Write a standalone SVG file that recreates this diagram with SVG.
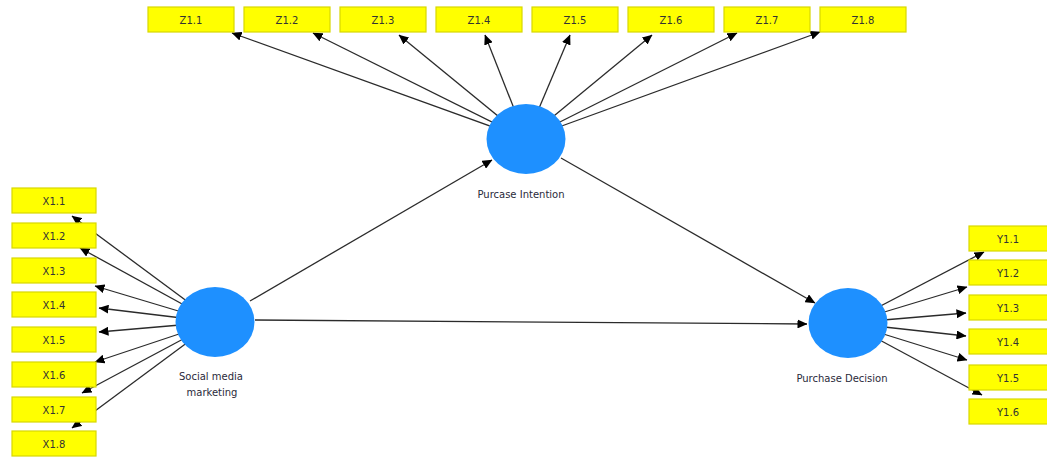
<svg xmlns="http://www.w3.org/2000/svg" width="1047" height="457" viewBox="0 0 1047 457">
<style>
.bg{fill:#ffffff}
.box rect{fill:#ffff00;stroke:#d8d800;stroke-width:1.2}
.box text{font-family:"DejaVu Sans","Liberation Sans",sans-serif;font-size:10px;fill:#333333;text-anchor:middle}
.lv ellipse{fill:#1e90ff}
.lv text{font-family:"DejaVu Sans","Liberation Sans",sans-serif;font-size:10px;fill:#2a2a3a;text-anchor:middle}
#connectors line{stroke:#2b2b2b;stroke-width:1.3;marker-end:url(#ah)}
</style>
<defs>
<marker id="ah" markerUnits="userSpaceOnUse" markerWidth="10" markerHeight="9" refX="9.5" refY="4.5" orient="auto">
<path d="M0,0 L10,4.5 L0,9 z" fill="#000000"/>
</marker>
</defs>
<rect class="bg" x="0" y="0" width="1047" height="457"/>
<g id="connectors">
<line x1="526" y1="139" x2="232" y2="33"/>
<line x1="526" y1="139" x2="313" y2="33"/>
<line x1="526" y1="139" x2="399" y2="35"/>
<line x1="526" y1="139" x2="485" y2="35"/>
<line x1="526" y1="139" x2="570" y2="35"/>
<line x1="526" y1="139" x2="652" y2="35"/>
<line x1="526" y1="139" x2="737" y2="33"/>
<line x1="526" y1="139" x2="820" y2="32"/>
<line x1="215" y1="322" x2="72" y2="216"/>
<line x1="215" y1="322" x2="80" y2="248"/>
<line x1="215" y1="322" x2="95" y2="286"/>
<line x1="215" y1="322" x2="99" y2="308"/>
<line x1="215" y1="322" x2="99" y2="332"/>
<line x1="215" y1="322" x2="95" y2="362"/>
<line x1="215" y1="322" x2="82" y2="393"/>
<line x1="215" y1="322" x2="72" y2="428"/>
<line x1="848" y1="323" x2="984" y2="252"/>
<line x1="848" y1="323" x2="967" y2="287"/>
<line x1="848" y1="323" x2="966" y2="313"/>
<line x1="848" y1="323" x2="966" y2="336"/>
<line x1="848" y1="323" x2="967" y2="360"/>
<line x1="848" y1="323" x2="982" y2="395"/>
<line x1="250" y1="301" x2="492" y2="160"/>
<line x1="255" y1="320" x2="807" y2="324"/>
<line x1="561" y1="158" x2="815" y2="303"/>
</g>
<g id="Z1.1" class="box"><rect x="148" y="7" width="86" height="25"/><text x="191" y="24">Z1.1</text></g>
<g id="Z1.2" class="box"><rect x="244" y="7" width="86" height="25"/><text x="287" y="24">Z1.2</text></g>
<g id="Z1.3" class="box"><rect x="340" y="7" width="86" height="25"/><text x="383" y="24">Z1.3</text></g>
<g id="Z1.4" class="box"><rect x="436" y="7" width="86" height="25"/><text x="479" y="24">Z1.4</text></g>
<g id="Z1.5" class="box"><rect x="532" y="7" width="86" height="25"/><text x="575" y="24">Z1.5</text></g>
<g id="Z1.6" class="box"><rect x="628" y="7" width="86" height="25"/><text x="671" y="24">Z1.6</text></g>
<g id="Z1.7" class="box"><rect x="724" y="7" width="86" height="25"/><text x="767" y="24">Z1.7</text></g>
<g id="Z1.8" class="box"><rect x="820" y="7" width="86" height="25"/><text x="863" y="24">Z1.8</text></g>
<g id="X1.1" class="box"><rect x="12" y="188" width="84" height="25"/><text x="54" y="205">X1.1</text></g>
<g id="X1.2" class="box"><rect x="12" y="223" width="84" height="25"/><text x="54" y="240">X1.2</text></g>
<g id="X1.3" class="box"><rect x="12" y="258" width="84" height="25"/><text x="54" y="275">X1.3</text></g>
<g id="X1.4" class="box"><rect x="12" y="292" width="84" height="25"/><text x="54" y="309">X1.4</text></g>
<g id="X1.5" class="box"><rect x="12" y="327" width="84" height="25"/><text x="54" y="344">X1.5</text></g>
<g id="X1.6" class="box"><rect x="12" y="362" width="84" height="25"/><text x="54" y="379">X1.6</text></g>
<g id="X1.7" class="box"><rect x="12" y="397" width="84" height="25"/><text x="54" y="414">X1.7</text></g>
<g id="X1.8" class="box"><rect x="12" y="431" width="84" height="25"/><text x="54" y="448">X1.8</text></g>
<g id="Y1.1" class="box"><rect x="969" y="226" width="86" height="25"/><text x="1008" y="243">Y1.1</text></g>
<g id="Y1.2" class="box"><rect x="969" y="260" width="86" height="25"/><text x="1008" y="277">Y1.2</text></g>
<g id="Y1.3" class="box"><rect x="969" y="295" width="86" height="25"/><text x="1008" y="312">Y1.3</text></g>
<g id="Y1.4" class="box"><rect x="969" y="329" width="86" height="25"/><text x="1008" y="346">Y1.4</text></g>
<g id="Y1.5" class="box"><rect x="969" y="365" width="86" height="25"/><text x="1008" y="382">Y1.5</text></g>
<g id="Y1.6" class="box"><rect x="969" y="399" width="86" height="25"/><text x="1008" y="416">Y1.6</text></g>
<g id="PurcaseIntention" class="lv"><ellipse cx="526" cy="139" rx="39.5" ry="35"/><text x="521" y="198">Purcase Intention</text></g>
<g id="SocialMediaMarketing" class="lv"><ellipse cx="215" cy="322" rx="39.5" ry="35"/><text x="211" y="380">Social media</text><text x="212" y="396">marketing</text></g>
<g id="PurchaseDecision" class="lv"><ellipse cx="848" cy="323" rx="39.5" ry="35"/><text x="842" y="382">Purchase Decision</text></g>
</svg>
